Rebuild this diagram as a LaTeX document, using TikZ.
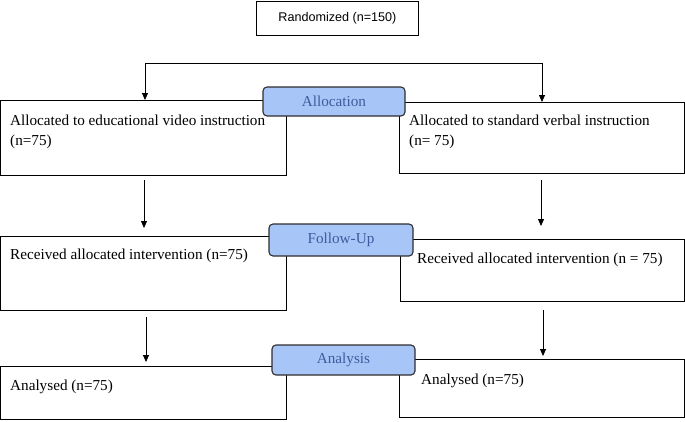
\documentclass[tikz,border=0pt]{standalone}
\usepackage{fontspec}
\setmainfont{Liberation Serif}
\newfontfamily\arialfont{Liberation Sans}
\usetikzlibrary{arrows.meta,calc}
\definecolor{labfill}{HTML}{A8C5F7}
\definecolor{labtext}{HTML}{3C5C9E}
\definecolor{labedge}{HTML}{2E2E2E}
\tikzset{
  box/.style={draw=black, line width=0.9pt, fill=white, rectangle, inner sep=0pt, anchor=north west},
  lab/.style={draw=labedge, line width=1.1pt, fill=labfill, rounded corners=4pt, rectangle, inner sep=0pt,
    text=labtext, font=\fontsize{15.2}{18}\selectfont},
  txt/.style={anchor=base west, inner sep=0pt, font=\fontsize{15.2}{20}\selectfont},
  arr/.style={line width=0.8pt, -{Triangle[length=7pt,width=6pt]}},
}
\begin{document}
\begin{tikzpicture}[x=1pt,y=-1pt]
\useasboundingbox (0,0) rectangle (685,421);
% randomized
\node[box, minimum width=162pt, minimum height=34pt, font=\arialfont\fontsize{12.6}{15}\selectfont] (rand) at (256,1) {Randomized (n=150)};
% boxes
\node[box, minimum width=286pt, minimum height=75pt] (a1) at (0,100) {};
\node[box, minimum width=285pt, minimum height=71pt] (b1) at (399,102) {};
\node[box, minimum width=286pt, minimum height=74pt] (a2) at (0,236) {};
\node[box, minimum width=284pt, minimum height=62pt] (b2) at (400,239) {};
\node[box, minimum width=286pt, minimum height=53pt] (a3) at (0,366) {};
\node[box, minimum width=285pt, minimum height=58pt] (b3) at (399,359) {};
% texts
\node[txt] (ta1) at (10,125) {Allocated to educational video instruction};
\node[txt] (ta1b) at (10,145) {(n=75)};
\node[txt] (tb1) at (409,125) {Allocated to standard verbal instruction};
\node[txt] (tb1b) at (409,145) {(n= 75)};
\node[txt] (ta2) at (10,259) {Received allocated intervention (n=75)};
\node[txt] (tb2) at (417,263) {Received allocated intervention (n = 75)};
\node[txt] (ta3) at (10,390) {Analysed (n=75)};
\node[txt] (tb3) at (421,384) {Analysed (n=75)};
% branch
\coordinate (bl) at (145,63);
\coordinate (br) at (542,63);
\draw[line width=0.8pt] (bl) -- (br);
\draw[arr] (bl) -- (bl |- a1.north);
\draw[arr] (br) -- (br |- b1.north);
% arrows between stages
\coordinate (lx1) at (144,0);
\coordinate (rx1) at (541,0);
\coordinate (lx2) at (146,0);
\coordinate (rx2) at (543,0);
\draw[arr] ([yshift=-4pt]a1.south -| lx1) -- ([yshift=8pt]a2.north -| lx1);
\draw[arr] ([yshift=-6pt]b1.south -| rx1) -- ([yshift=13pt]b2.north -| rx1);
\draw[arr] ([yshift=-6pt]a2.south -| lx2) -- ([yshift=4pt]a3.north -| lx2);
\draw[arr] ([yshift=-8pt]b2.south -| rx2) -- ([yshift=3pt]b3.north -| rx2);
% labels
\node[lab, minimum width=142pt, minimum height=29pt] (alloc) at (334,101.5) {Allocation};
\node[lab, minimum width=144pt, minimum height=32pt] (follow) at (341,240) {Follow-Up};
\node[lab, minimum width=143pt, minimum height=30pt] (anal) at (343.5,360) {Analysis};
\end{tikzpicture}
\end{document}
